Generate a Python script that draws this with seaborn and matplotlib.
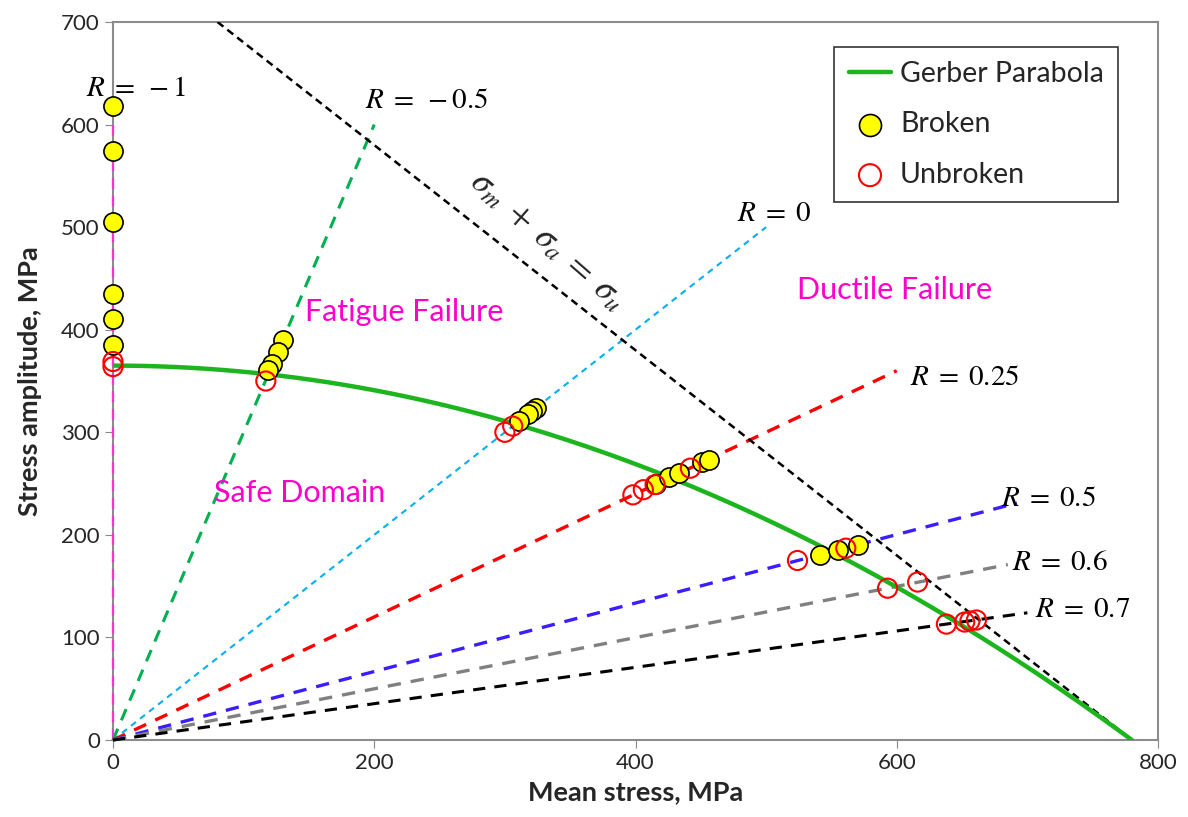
import numpy as np
import pandas as pd
import matplotlib
matplotlib.use("Agg")
import matplotlib.pyplot as plt
import seaborn as sns

sns.set_style("white")
plt.rcParams['font.family'] = ['Lato', 'DejaVu Sans']
plt.rcParams['mathtext.fontset'] = 'stix'

# -------------------------------
# DATA
# -------------------------------
sigma_e = 365     # endurance limit at zero mean stress, MPa
sigma_u = 780     # ultimate strength, MPa

r_labels = [r"$R\;=\;-1$", r"$R\;=\;-0.5$", r"$R\;=\;0$", r"$R\;=\;0.25$",
            r"$R\;=\;0.5$", r"$R\;=\;0.6$", r"$R\;=\;0.7$"]
r_end_sm = [0, 200, 500, 600, 692, 685, 700]
r_end_sa = [600, 600, 500, 360, 231, 171, 124]
r_colors = ["#FF33CC", "#00B050", "#00B0F0", "#FF0000", "#3A1EFF", "#808080", "#000000"]
r_widths = [1.6, 2.2, 1.5, 2.4, 2.4, 2.4, 2.2]
r_dashes = [(5, 3), (4, 3), (3, 2.5), (4, 3), (4, 3), (4, 3), (4, 3)]
r_label_x = [-21, 193, 478, 610, 680, 688, 706]
r_label_y = [636, 624, 514, 354, 236, 174, 128]

broken_sm = [0, 0, 0, 0, 0, 0,
             130, 126, 122, 119,
             324, 321, 318, 311,
             416, 426, 433, 451, 456,
             541, 555, 570]
broken_sa = [618, 574, 505, 435, 410, 385,
             390, 378, 367, 361,
             324, 321, 318, 311,
             250, 256, 260, 271, 273,
             180, 185, 190]

unbroken_sm = [0, 0, 117, 300, 306, 398, 406, 415, 442,
               524, 561, 593, 616, 638, 652, 656, 661]
unbroken_sa = [369, 364, 350, 300, 306, 239, 244, 249, 265,
               175, 187, 148, 154, 113, 115, 116, 117]

region_labels = ["Fatigue Failure", "Ductile Failure", "Safe Domain"]
region_x = [147, 524, 77]
region_y = [417, 439, 241]

# -------------------------------
# PLOT
# -------------------------------
fig = plt.figure(figsize=(11.88, 8.17), dpi=100)
ax = fig.add_axes([113 / 1188, 77 / 817, 1045 / 1188, 718 / 817])

# R = const load lines
for lab, sm, sa, c, lw, ds in zip(r_labels, r_end_sm, r_end_sa, r_colors, r_widths, r_dashes):
    ax.plot([0, sm], [0, sa], color=c, lw=lw, dashes=ds, zorder=3, clip_on=False)

# failure line sigma_m + sigma_a = sigma_u
ax.plot([80, sigma_u], [sigma_u - 80, 0], color="black", lw=1.8, dashes=(3, 2), zorder=3)

# Gerber parabola
sm_curve = np.linspace(0, sigma_u, 200)
gerber = pd.DataFrame({"sm": sm_curve, "sa": sigma_e * (1 - (sm_curve / sigma_u) ** 2)})
sns.lineplot(data=gerber, x="sm", y="sa", color="#1DB51D", lw=3.2, ax=ax,
             label="Gerber Parabola", zorder=4)

broken = pd.DataFrame({"sm": broken_sm, "sa": broken_sa})
unbroken = pd.DataFrame({"sm": unbroken_sm, "sa": unbroken_sa})
sns.scatterplot(data=broken, x="sm", y="sa", s=190, color="#FFFF00", edgecolor="black",
                linewidth=1.2, ax=ax, label="Broken", zorder=5, clip_on=False)
sns.scatterplot(data=unbroken, x="sm", y="sa", s=190, facecolor="none", edgecolor="#FF0000",
                linewidth=1.5, ax=ax, label="Unbroken", zorder=6, clip_on=False)

# labels
for lab, x, y in zip(r_labels, r_label_x, r_label_y):
    ax.text(x, y, lab, fontsize=21, va="center", ha="left", color="black")
ax.text(333, 487, r"$\sigma_m\;+\;\sigma_a\;=\;\sigma_u$", fontsize=25, rotation=-41,
        ha="center", va="center", rotation_mode="anchor")
for lab, x, y in zip(region_labels, region_x, region_y):
    ax.text(x, y, lab, fontsize=22, color="#FF00CC", va="center", ha="left")

ax.set_xlim(0, 800)
ax.set_ylim(0, 700)
ax.set_xticks(range(0, 801, 200))
ax.set_yticks(range(0, 701, 100))
ax.tick_params(axis="both", labelsize=16, direction="out", length=6, color="#888888",
               left=True, bottom=True)
for sp in ax.spines.values():
    sp.set_color("#8C8C8C")
    sp.set_linewidth(1.5)
ax.set_xlabel("Mean stress, MPa", fontsize=19.5, fontweight="bold", labelpad=5)
ax.set_ylabel("Stress amplitude, MPa", fontsize=19.5, fontweight="bold", labelpad=14)

leg = ax.legend(loc="upper right", bbox_to_anchor=(1 - 40 / 1045, 1 - 25 / 718),
                borderaxespad=0, fontsize=20.5, frameon=True, fancybox=False,
                edgecolor="black", labelspacing=0.85, handlelength=1.5,
                handletextpad=0.3, borderpad=0.5, markerscale=1.15)
leg.get_frame().set_linewidth(1.2)

plt.savefig("out.png", dpi=100)
plt.close()
